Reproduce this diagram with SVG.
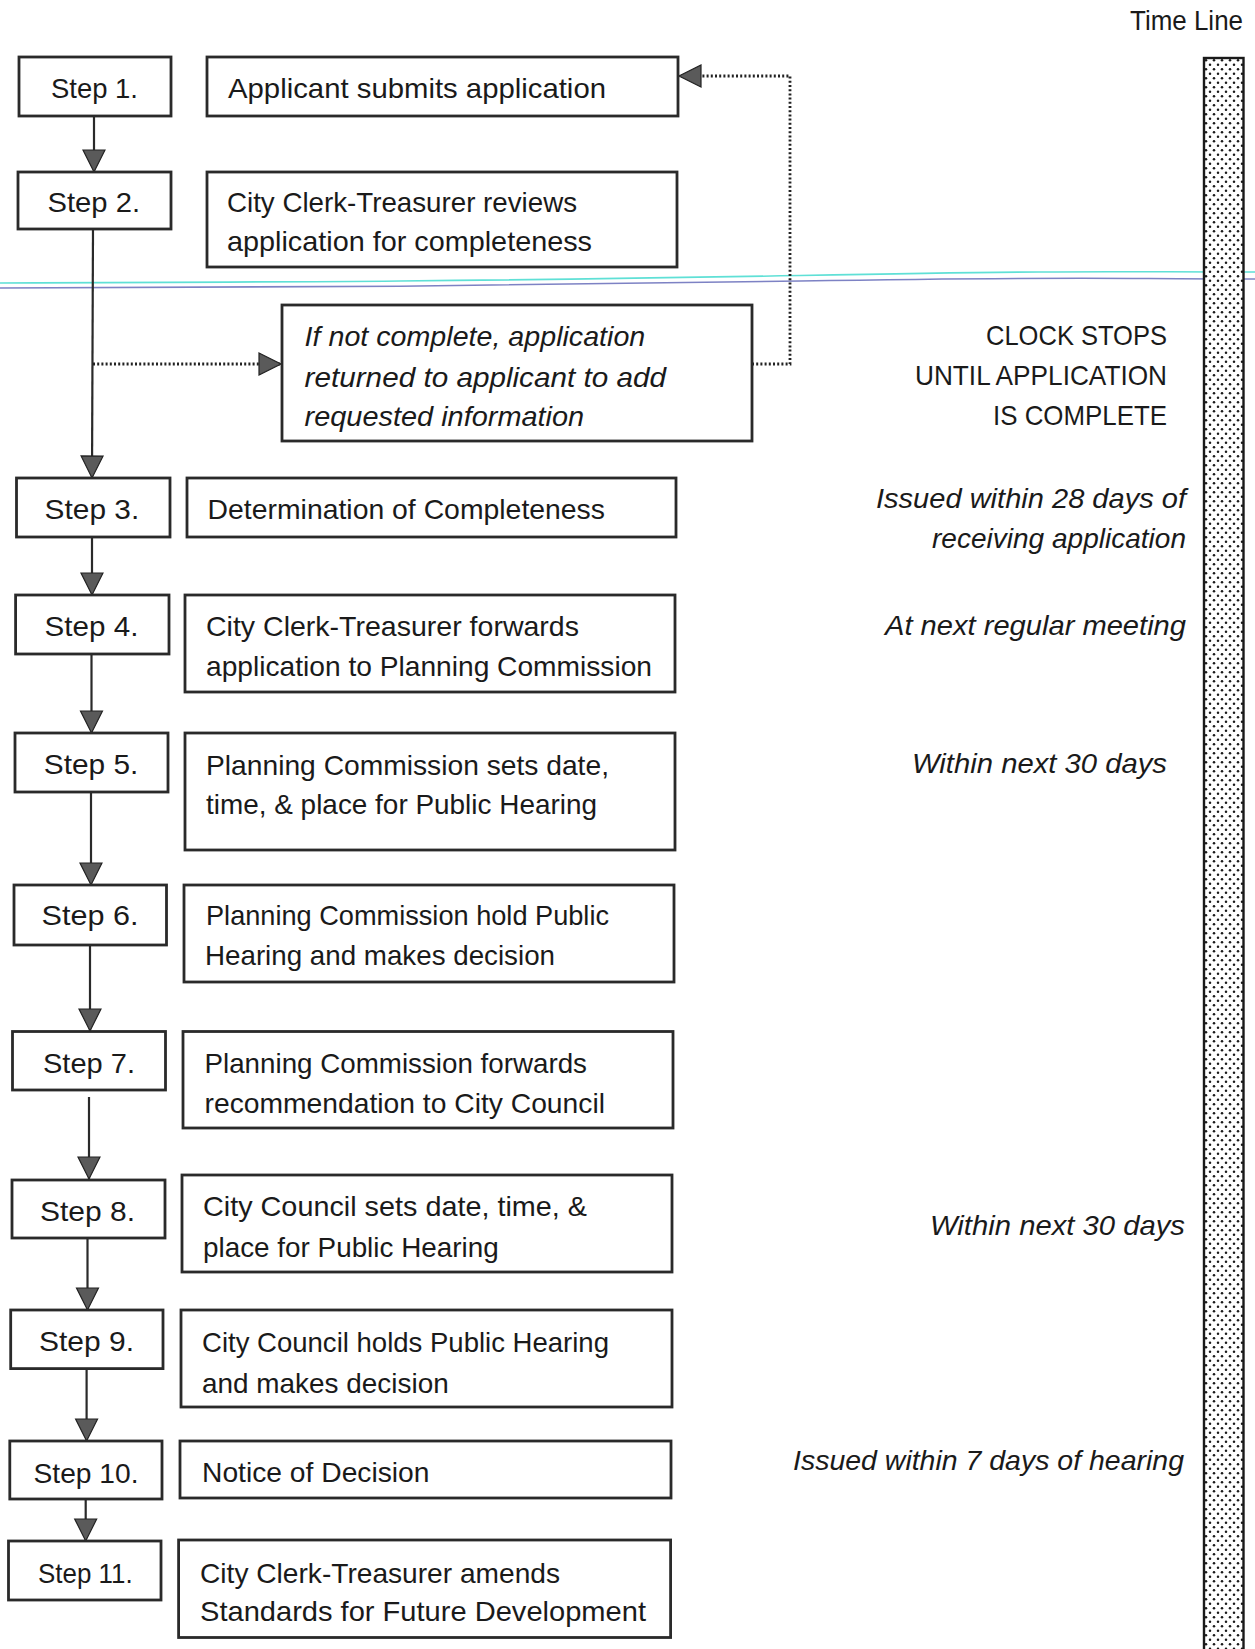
<svg xmlns="http://www.w3.org/2000/svg" width="1255" height="1649" viewBox="0 0 1255 1649">
<style>
  .box { fill: #fff; stroke: #2a2a2a; stroke-width: 2.8; }
  .t { font-family: "Liberation Sans", Arial, sans-serif; font-size: 28.5px; fill: #1a1a1a; }
  .ti { font-family: "Liberation Sans", Arial, sans-serif; font-size: 28px; font-style: italic; fill: #1a1a1a; }
  .r { text-anchor: end; }
  .line { fill: none; stroke: #2a2a2a; stroke-width: 2.2; }
  .dot { fill: none; stroke: #222; stroke-width: 2.8; stroke-dasharray: 2 2.2; }
</style>
<defs>
  <marker id="arr" markerUnits="userSpaceOnUse" markerWidth="26" markerHeight="26" viewBox="0 0 26 26" refX="23" refY="13" orient="auto">
    <path d="M1,2 L23,13 L1,24 Z" fill="#5a5a5a" stroke="#222" stroke-width="1.2" stroke-dasharray="none"/>
  </marker>
  <pattern id="dots" patternUnits="userSpaceOnUse" width="8" height="9" x="1204" y="58">
    <rect width="8" height="9" fill="#fff"/>
    <circle cx="2" cy="2.2" r="1.25" fill="#1a1a1a"/>
    <circle cx="6" cy="6.7" r="1.25" fill="#1a1a1a"/>
  </pattern>
</defs>
<rect width="1255" height="1649" fill="#fff"/>

<!-- scan lines -->
<path d="M0,283 C300,282 500,281 800,275.5 S1100,272 1255,272" fill="none" stroke="#5fe0d6" stroke-width="1.6"/>
<path d="M0,288 C300,287.5 500,286 800,281 S1100,279 1255,279" fill="none" stroke="#7d82c4" stroke-width="1.6"/>

<!-- Time line -->
<g id="timeline">
  <text class="t" x="1130" y="30" textLength="113" lengthAdjust="spacingAndGlyphs">Time Line</text>
  <rect x="1204" y="58" width="39.5" height="1600" fill="url(#dots)" stroke="#1a1a1a" stroke-width="2.4"/>
</g>

<g id="connectors">
  <line class="line" x1="94" y1="116" x2="94" y2="172" marker-end="url(#arr)"/>
  <line class="line" x1="93" y1="229" x2="92" y2="478" marker-end="url(#arr)"/>
  <line class="dot" x1="93" y1="364" x2="281" y2="364" marker-end="url(#arr)"/>
  <polyline class="dot" points="752,364 790,364 790,76 679,76" marker-end="url(#arr)"/>
  <line class="line" x1="92" y1="537" x2="92" y2="595" marker-end="url(#arr)"/>
  <line class="line" x1="91.5" y1="654" x2="91.5" y2="733" marker-end="url(#arr)"/>
  <line class="line" x1="91" y1="792" x2="91" y2="885" marker-end="url(#arr)"/>
  <line class="line" x1="90" y1="945" x2="90" y2="1031" marker-end="url(#arr)"/>
  <line class="line" x1="89" y1="1097" x2="89" y2="1179" marker-end="url(#arr)"/>
  <line class="line" x1="87.5" y1="1238" x2="87.5" y2="1310" marker-end="url(#arr)"/>
  <line class="line" x1="86.6" y1="1368" x2="86.6" y2="1441" marker-end="url(#arr)"/>
  <line class="line" x1="85.7" y1="1499" x2="85.7" y2="1541" marker-end="url(#arr)"/>
</g>

<g id="step1"><rect class="box" x="19" y="57" width="152" height="59"/><text class="t" x="51" y="98" textLength="87" lengthAdjust="spacingAndGlyphs">Step 1.</text></g>
<g id="desc1"><rect class="box" x="207" y="57" width="471" height="59"/><text class="t" x="228" y="98" textLength="378" lengthAdjust="spacingAndGlyphs">Applicant submits application</text></g>

<g id="step2"><rect class="box" x="18" y="172" width="153" height="57"/><text class="t" x="47.5" y="212" textLength="92.5" lengthAdjust="spacingAndGlyphs">Step 2.</text></g>
<g id="desc2"><rect class="box" x="207" y="172" width="470" height="95"/>
  <text class="t" x="227" y="212" textLength="350" lengthAdjust="spacingAndGlyphs">City Clerk-Treasurer reviews</text>
  <text class="t" x="227" y="251" textLength="365" lengthAdjust="spacingAndGlyphs">application for completeness</text></g>

<g id="incomplete"><rect class="box" x="282" y="305" width="470" height="136"/>
  <text class="ti" x="304.6" y="346" textLength="340.7" lengthAdjust="spacingAndGlyphs">If not complete, application</text>
  <text class="ti" x="304.6" y="387" textLength="361.4" lengthAdjust="spacingAndGlyphs">returned to applicant to add</text>
  <text class="ti" x="304.6" y="426" textLength="279.6" lengthAdjust="spacingAndGlyphs">requested information</text></g>

<g id="clockstops">
  <text class="t r" x="1167" y="345" textLength="181" lengthAdjust="spacingAndGlyphs">CLOCK STOPS</text>
  <text class="t r" x="1167" y="385" textLength="252" lengthAdjust="spacingAndGlyphs">UNTIL APPLICATION</text>
  <text class="t r" x="1167" y="425" textLength="174" lengthAdjust="spacingAndGlyphs">IS COMPLETE</text>
</g>

<g id="step3"><rect class="box" x="16.5" y="478" width="153.5" height="59"/><text class="t" x="44.6" y="519" textLength="94.6" lengthAdjust="spacingAndGlyphs">Step 3.</text></g>
<g id="desc3"><rect class="box" x="187" y="478" width="489" height="59"/><text class="t" x="207.6" y="519" textLength="397.4" lengthAdjust="spacingAndGlyphs">Determination of Completeness</text></g>
<g id="time3">
  <text class="ti" x="876" y="508" textLength="310" lengthAdjust="spacingAndGlyphs">Issued within 28 days of</text>
  <text class="ti" x="932" y="548" textLength="254" lengthAdjust="spacingAndGlyphs">receiving application</text>
</g>

<g id="step4"><rect class="box" x="15.6" y="595" width="153.4" height="59"/><text class="t" x="44.6" y="636" textLength="93.8" lengthAdjust="spacingAndGlyphs">Step 4.</text></g>
<g id="desc4"><rect class="box" x="185" y="595" width="490" height="97"/>
  <text class="t" x="206" y="636" textLength="373" lengthAdjust="spacingAndGlyphs">City Clerk-Treasurer forwards</text>
  <text class="t" x="206" y="676" textLength="446" lengthAdjust="spacingAndGlyphs">application to Planning Commission</text></g>
<g id="time4"><text class="ti" x="885" y="635" textLength="301" lengthAdjust="spacingAndGlyphs">At next regular meeting</text></g>

<g id="step5"><rect class="box" x="15" y="733" width="153" height="59"/><text class="t" x="43.75" y="774" textLength="94.6" lengthAdjust="spacingAndGlyphs">Step 5.</text></g>
<g id="desc5"><rect class="box" x="185" y="733" width="490" height="117"/>
  <text class="t" x="206" y="775" textLength="403" lengthAdjust="spacingAndGlyphs">Planning Commission sets date,</text>
  <text class="t" x="206" y="814" textLength="391" lengthAdjust="spacingAndGlyphs">time, &amp; place for Public Hearing</text></g>
<g id="time5"><text class="ti" x="912" y="773" textLength="255" lengthAdjust="spacingAndGlyphs">Within next 30 days</text></g>

<g id="step6"><rect class="box" x="14" y="885" width="152.5" height="60"/><text class="t" x="41.5" y="925" textLength="96.9" lengthAdjust="spacingAndGlyphs">Step 6.</text></g>
<g id="desc6"><rect class="box" x="184" y="885" width="490" height="97"/>
  <text class="t" x="206" y="925" textLength="403" lengthAdjust="spacingAndGlyphs">Planning Commission hold Public</text>
  <text class="t" x="205" y="965" textLength="350" lengthAdjust="spacingAndGlyphs">Hearing and makes decision</text></g>

<g id="step7"><rect class="box" x="12.5" y="1031.5" width="153" height="58.5"/><text class="t" x="43" y="1073" textLength="92" lengthAdjust="spacingAndGlyphs">Step 7.</text></g>
<g id="desc7"><rect class="box" x="183" y="1031.5" width="490" height="96.5"/>
  <text class="t" x="204.5" y="1073" textLength="382.5" lengthAdjust="spacingAndGlyphs">Planning Commission forwards</text>
  <text class="t" x="204.5" y="1113" textLength="400.5" lengthAdjust="spacingAndGlyphs">recommendation to City Council</text></g>

<g id="step8"><rect class="box" x="12" y="1180" width="153" height="58"/><text class="t" x="40" y="1221" textLength="95" lengthAdjust="spacingAndGlyphs">Step 8.</text></g>
<g id="desc8"><rect class="box" x="182" y="1175" width="490" height="97"/>
  <text class="t" x="203" y="1216" textLength="384" lengthAdjust="spacingAndGlyphs">City Council sets date, time, &amp;</text>
  <text class="t" x="203" y="1256.6" textLength="295.7" lengthAdjust="spacingAndGlyphs">place for Public Hearing</text></g>
<g id="time8"><text class="ti" x="930" y="1235" textLength="255" lengthAdjust="spacingAndGlyphs">Within next 30 days</text></g>

<g id="step9"><rect class="box" x="10.7" y="1310" width="152.3" height="58.6"/><text class="t" x="39" y="1351" textLength="95" lengthAdjust="spacingAndGlyphs">Step 9.</text></g>
<g id="desc9"><rect class="box" x="181" y="1310" width="491" height="97"/>
  <text class="t" x="202" y="1352" textLength="407" lengthAdjust="spacingAndGlyphs">City Council holds Public Hearing</text>
  <text class="t" x="202" y="1393" textLength="246.7" lengthAdjust="spacingAndGlyphs">and makes decision</text></g>

<g id="step10"><rect class="box" x="9.8" y="1441" width="152.2" height="58"/><text class="t" x="33.5" y="1483" textLength="105" lengthAdjust="spacingAndGlyphs">Step 10.</text></g>
<g id="desc10"><rect class="box" x="180" y="1441" width="491" height="57"/><text class="t" x="202" y="1482" textLength="227.5" lengthAdjust="spacingAndGlyphs">Notice of Decision</text></g>
<g id="time10"><text class="ti" x="793" y="1470" textLength="391" lengthAdjust="spacingAndGlyphs">Issued within 7 days of hearing</text></g>

<g id="step11"><rect class="box" x="8.5" y="1541" width="152.5" height="59"/><text class="t" x="38" y="1583" textLength="94.6" lengthAdjust="spacingAndGlyphs">Step 11.</text></g>
<g id="desc11"><rect class="box" x="178.6" y="1540" width="492" height="97.5"/>
  <text class="t" x="200" y="1583" textLength="360" lengthAdjust="spacingAndGlyphs">City Clerk-Treasurer amends</text>
  <text class="t" x="200" y="1621" textLength="446" lengthAdjust="spacingAndGlyphs">Standards for Future Development</text></g>
</svg>
